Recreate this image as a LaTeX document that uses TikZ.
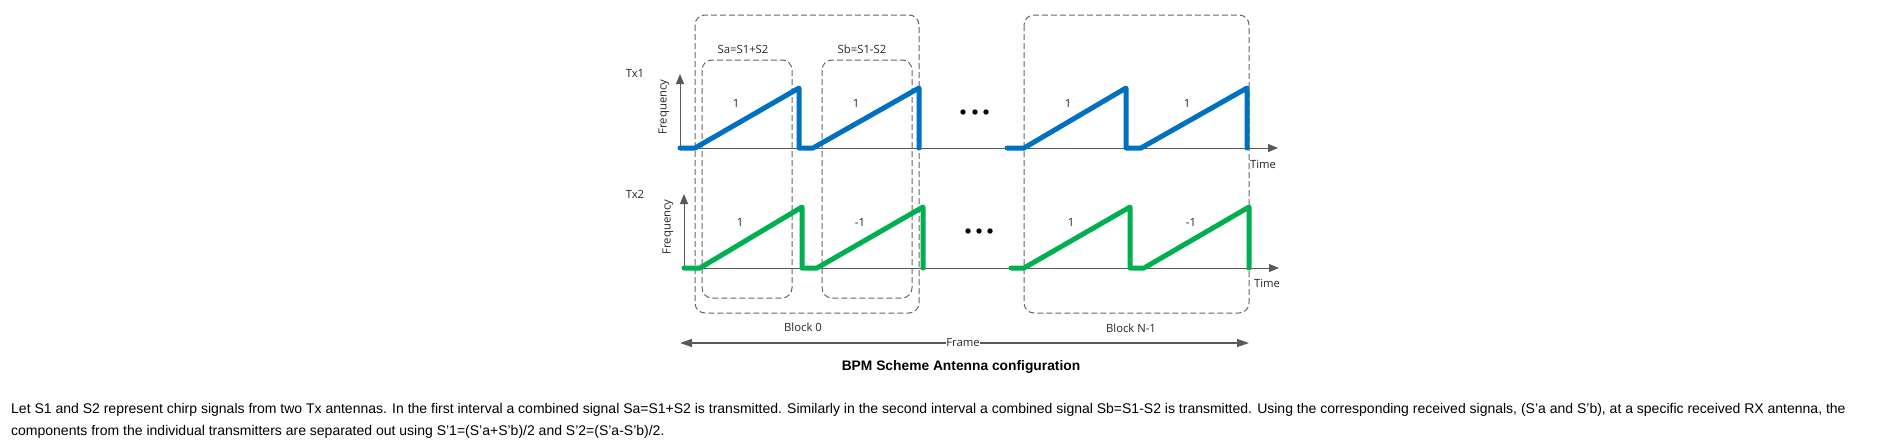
\documentclass[tikz,border=0pt]{standalone}
\usepackage{fontspec}
\setmainfont{Liberation Sans}
\newfontfamily\diagfont{Open Sans}
\usetikzlibrary{arrows.meta}
\definecolor{chirpblue}{HTML}{0070C0}
\definecolor{chirpgreen}{HTML}{00B050}

\begin{document}
\begin{tikzpicture}[x=1pt,y=-1pt,
  lbl/.style={font=\diagfont\fontsize{11.3}{13}\selectfont,text=black!85,inner sep=0pt},
  blockbox/.style={draw=black!60,dash pattern=on 6pt off 3pt,rounded corners=10pt,line width=1pt},
  axis/.style={draw=black!65,line width=1pt,-{Triangle[length=10pt,width=8pt]}},
  chirp/.style={line width=5pt,line cap=round,line join=round},
  dot/.style={circle,fill=black,inner sep=0pt,minimum size=5.4pt}]
\useasboundingbox (0,0) rectangle (1887,442);

% blocks
\draw[blockbox] (695,15) rectangle (919,313);
\draw[blockbox] (702,60) rectangle (792,298);
\draw[blockbox] (822,60) rectangle (912,298);
\draw[blockbox] (1024,15) rectangle (1249,313);
\node[lbl] (sa) at (743,49) {Sa=S1+S2};
\node[lbl] (sb) at (862,49) {Sb=S1-S2};
\node[lbl] (blk0) at (803,327) {Block 0};
\node[lbl] (blkn) at (1131,328) {Block N-1};

% Tx1
\node[lbl] (tx1) at (635,73) {Tx1};
\coordinate (o1) at (680,148);
\coordinate (f1) at (680,74);
\coordinate (t1) at (1278,148);
\draw[axis] (o1) -- (f1);
\draw[axis] (o1) -- (t1);
\node[lbl,rotate=90] (freq1) at (664,107) {Frequency};
\node[lbl] (time1) at (1263,164) {Time};
\draw[chirp,chirpblue] (680,148) -- (695,148) -- (799,88) -- (799,148) -- (813,148) -- (919,88) -- (919,148);
\draw[chirp,chirpblue] (1007,148) -- (1024,148) -- (1126,88) -- (1126,148) -- (1141,148) -- (1247,88) -- (1247,148);
\node[lbl] (a1) at (736,103) {1};
\node[lbl] (a2) at (856,103) {1};
\node[lbl] (a3) at (1068,103) {1};
\node[lbl] (a4) at (1187,103) {1};
\foreach \x in {963,975,986}
  \node[dot] at (\x,112) {};

% Tx2
\node[lbl] (tx2) at (635,194) {Tx2};
\coordinate (o2) at (684,268);
\coordinate (f2) at (684,194);
\coordinate (t2) at (1279,268);
\draw[axis] (o2) -- (f2);
\draw[axis] (o2) -- (t2);
\node[lbl,rotate=90] (freq2) at (668,227) {Frequency};
\node[lbl] (time2) at (1267,283) {Time};
\draw[chirp,chirpgreen] (684,268) -- (700,268) -- (802,207) -- (802,268) -- (817,268) -- (923,207) -- (923,268);
\draw[chirp,chirpgreen] (1011,268) -- (1024,268) -- (1130,207) -- (1130,268) -- (1144,268) -- (1249,207) -- (1249,268);
\node[lbl] (b1) at (740,222) {1};
\node[lbl] (b2) at (860,222) {-1};
\node[lbl] (b3) at (1071,222) {1};
\node[lbl] (b4) at (1191,222) {-1};
\foreach \x in {968,979,990}
  \node[dot] at (\x,231) {};

% frame
\coordinate (fl) at (680,343);
\coordinate (fr) at (1249,343);
\draw[draw=black!65,line width=1.2pt,{Triangle[length=12pt,width=8pt]}-{Triangle[length=12pt,width=8pt]}] (fl) -- (fr);
\node[lbl,fill=white,inner sep=0.5pt] (frame) at (963,343) {Frame};
\node[font=\bfseries\fontsize{13.8}{16}\selectfont] (title) at (961,367) {BPM Scheme Antenna configuration};

% text
\node[anchor=base west,inner sep=0pt,font=\fontsize{14}{16}\selectfont] (para1) at (11,413) {Let S1 and S2 represent chirp signals from two Tx antennas. In the first interval a combined signal Sa=S1+S2 is transmitted. Similarly in the second interval a combined signal Sb=S1-S2 is transmitted. Using the corresponding received signals, (S'a and S'b), at a specific received RX antenna, the};
\node[anchor=base west,inner sep=0pt,font=\fontsize{14}{16}\selectfont] (para2) at (11,435) {components from the individual transmitters are separated out using S'1=(S'a+S'b)/2 and S'2=(S'a-S'b)/2.};
\end{tikzpicture}
\end{document}
